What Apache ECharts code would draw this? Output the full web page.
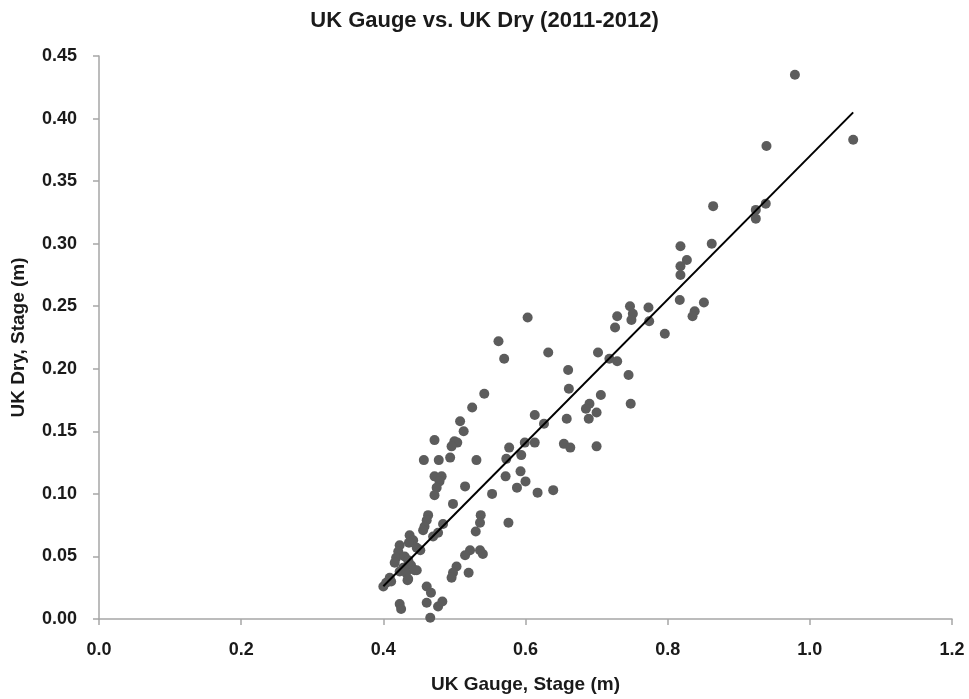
<!DOCTYPE html>
<html>
<head>
<meta charset="utf-8">
<script src="https://cdn.jsdelivr.net/npm/echarts@6/dist/echarts.min.js"></script>
<style>
html, body { margin: 0; padding: 0; background: #fff; }
#chart { width: 969px; height: 699px; }
</style>
</head>
<body>
<div id="chart"></div>
<script>
// gauge stage (x) and dry stage (y)
var gaugeStage = [
	0.979, 0.939, 1.061, 0.864, 0.924, 0.938, 0.924, 0.862, 0.818, 0.827,
	0.818, 0.818, 0.817, 0.851, 0.838, 0.835, 0.796, 0.747, 0.773, 0.729,
	0.751, 0.749, 0.774, 0.726, 0.603, 0.562, 0.570, 0.632, 0.702, 0.718,
	0.729, 0.660, 0.745, 0.661, 0.542, 0.706, 0.690, 0.685, 0.700, 0.689,
	0.748, 0.658, 0.525, 0.613, 0.508, 0.626, 0.513, 0.472, 0.500, 0.504,
	0.496, 0.577, 0.599, 0.613, 0.654, 0.663, 0.700, 0.457, 0.478, 0.494,
	0.531, 0.573, 0.594, 0.472, 0.482, 0.479, 0.475, 0.472, 0.515, 0.593,
	0.572, 0.600, 0.588, 0.553, 0.617, 0.639, 0.498, 0.463, 0.461, 0.458,
	0.456, 0.484, 0.470, 0.477, 0.537, 0.536, 0.530, 0.576, 0.522, 0.515,
	0.536, 0.540, 0.503, 0.498, 0.496, 0.520, 0.447, 0.434, 0.400, 0.404,
	0.461, 0.467, 0.423, 0.425, 0.461, 0.477, 0.483, 0.466, 0.437, 0.442,
	0.436, 0.447, 0.452, 0.423, 0.421, 0.418, 0.416, 0.430, 0.435, 0.439,
	0.428, 0.423, 0.432, 0.444, 0.409, 0.411, 0.435
]
var dryStage = [
	0.435, 0.378, 0.383, 0.330, 0.327, 0.332, 0.320, 0.300, 0.298, 0.287,
	0.282, 0.275, 0.255, 0.253, 0.246, 0.242, 0.228, 0.250, 0.249, 0.242,
	0.244, 0.239, 0.238, 0.233, 0.241, 0.222, 0.208, 0.213, 0.213, 0.208,
	0.206, 0.199, 0.195, 0.184, 0.180, 0.179, 0.172, 0.168, 0.165, 0.160,
	0.172, 0.160, 0.169, 0.163, 0.158, 0.156, 0.150, 0.143, 0.142, 0.141,
	0.138, 0.137, 0.141, 0.141, 0.140, 0.137, 0.138, 0.127, 0.127, 0.129,
	0.127, 0.128, 0.131, 0.114, 0.114, 0.110, 0.105, 0.099, 0.106, 0.118,
	0.114, 0.110, 0.105, 0.100, 0.101, 0.103, 0.092, 0.083, 0.079, 0.074,
	0.071, 0.076, 0.066, 0.069, 0.083, 0.077, 0.070, 0.077, 0.055, 0.051,
	0.055, 0.052, 0.042, 0.037, 0.033, 0.037, 0.039, 0.031, 0.026, 0.029,
	0.026, 0.021, 0.012, 0.008, 0.013, 0.010, 0.014, 0.001, 0.067, 0.063,
	0.061, 0.057, 0.055, 0.059, 0.054, 0.049, 0.045, 0.050, 0.047, 0.043,
	0.041, 0.038, 0.037, 0.039, 0.033, 0.030, 0.032
]

// linear trend line, drawn between the ends of the gauge range
var trendSlope = 0.573
var trendIntercept = -0.203
var trendX = [0.400, 1.061]

var points = []
for (let i = 0; i < gaugeStage.length; i++) {
	points.push([gaugeStage[i], dryStage[i]])
}
var trendPoints = trendX.map(function (x) {
	return [x, trendSlope * x + trendIntercept]
})

var mychart = echarts.init(document.getElementById('chart'))
var tickFont = {
	fontFamily: 'Liberation Sans',
	fontWeight: 'bold',
	fontSize: 18,
	color: '#1a1a1a'
}
var nameFont = {
	fontFamily: 'Liberation Sans',
	fontWeight: 'bold',
	fontSize: 19,
	color: '#1a1a1a'
}
var option = {
	animation: false,
	backgroundColor: '#fff',
	title: {
		text: 'UK Gauge vs. UK Dry (2011-2012)',
		left: 'center',
		top: 5,
		textStyle: {
			fontFamily: 'Liberation Sans',
			fontWeight: 'bold',
			fontSize: 22,
			color: '#1a1a1a'
		}
	},
	grid: { left: 99, right: 17, top: 56, bottom: 80, outerBoundsMode: 'none', containLabel: false },
	xAxis: {
		type: 'value',
		min: 0, max: 1.2, interval: 0.2,
		name: 'UK Gauge, Stage (m)',
		nameLocation: 'middle',
		nameGap: 56,
		nameTextStyle: nameFont,
		axisLine: { lineStyle: { color: '#a6a6a6', width: 1.5 } },
		axisTick: { length: 6, lineStyle: { color: '#a6a6a6', width: 1.5 } },
		splitLine: { show: false },
		axisLabel: Object.assign({ margin: 22, formatter: function (v) { return v.toFixed(1) } }, tickFont)
	},
	yAxis: {
		type: 'value',
		min: 0, max: 0.45, interval: 0.05,
		name: 'UK Dry, Stage (m)',
		nameLocation: 'middle',
		nameGap: 71,
		nameTextStyle: nameFont,
		axisLine: { show: true, lineStyle: { color: '#a6a6a6', width: 1.5 } },
		axisTick: { show: true, length: 6, lineStyle: { color: '#a6a6a6', width: 1.5 } },
		splitLine: { show: false },
		axisLabel: Object.assign({ margin: 22, formatter: function (v) { return v.toFixed(2) } }, tickFont)
	},
	series: [{
		type: 'scatter',
		data: points,
		symbolSize: 10,
		itemStyle: { color: '#5c5c5c', opacity: 1 }
	}, {
		type: 'line',
		data: trendPoints,
		symbol: 'none',
		lineStyle: { color: '#000', width: 2 },
		z: 3
	}]
}
mychart.setOption(option)
</script>
</body>
</html>
